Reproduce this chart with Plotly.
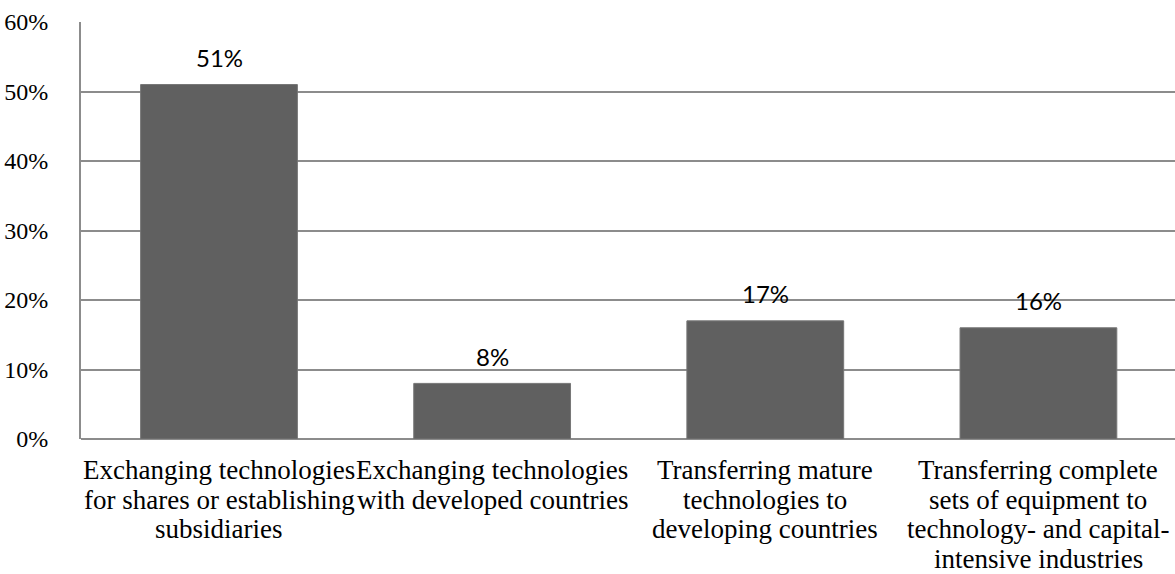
import plotly.graph_objects as go

categories = [
    "Exchanging technologies<br>for shares or establishing<br>subsidiaries",
    "Exchanging technologies<br>with developed countries",
    "Transferring mature<br>technologies to<br>developing countries",
    "Transferring complete<br>sets of equipment to<br>technology- and capital-<br>intensive industries",
]
values = [0.51, 0.08, 0.17, 0.16]
value_labels = ["51%", "8%", "17%", "16%"]
y_ticks = [0, 0.1, 0.2, 0.3, 0.4, 0.5, 0.6]

SERIF = "Liberation Serif, Times New Roman, serif"

fig = go.Figure()
fig.add_trace(go.Bar(
    x=categories, y=values,
    marker=dict(color="#606060", line=dict(color="#767676", width=1)),
    width=0.574,
    hoverinfo="skip",
))

for c, v, t in zip(categories, values, value_labels):
    fig.add_annotation(x=c, y=v, text=t, showarrow=False, yanchor="middle",
                       yshift=27, font=dict(family="Lato, sans-serif", size=24, color="#000"))

# category labels, one annotation per line for tight line spacing
LINE_H = 29.7
for c in categories:
    for i, line in enumerate(c.split("<br>")):
        fig.add_annotation(x=c, y=0, xref="x", yref="paper", text=line,
                           showarrow=False, yanchor="top", xanchor="center",
                           yshift=-14 - i * LINE_H,
                           font=dict(family=SERIF, size=27, color="#000"))

fig.update_layout(
    width=1175, height=574,
    margin=dict(l=81, r=0, t=22, b=135),
    plot_bgcolor="white", paper_bgcolor="white",
    showlegend=False,
    font=dict(family=SERIF, size=24, color="#000"),
)
fig.update_xaxes(
    type="category", showgrid=False, ticks="", showticklabels=False,
    showline=False,
)
fig.update_yaxes(
    range=[0, 0.6], tickvals=y_ticks, tickformat=".0%",
    showgrid=True, gridcolor="#8c8c8c", gridwidth=2,
    showline=True, linecolor="#8c8c8c", linewidth=2,
    zeroline=True, zerolinecolor="#8c8c8c", zerolinewidth=2,
    ticks="", ticklen=0, tickfont=dict(family=SERIF, size=24, color="#000"),
    ticklabelstandoff=26,
)

fig.write_html("out.html")
